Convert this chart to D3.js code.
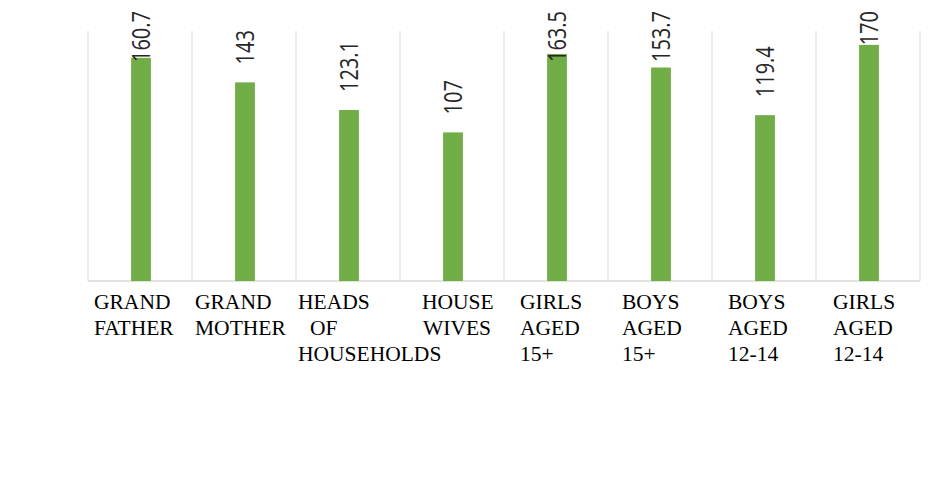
<!DOCTYPE html>
<html lang="en">
<head>
    <meta charset="UTF-8">
    <title>Bar chart</title>
    <script src="https://d3js.org/d3.v7.min.js"></script>
    <style>
        body { margin: 0; background: #fff; }
    </style>
</head>
<body>
    <svg></svg>
    <script>
        // chart data
        const categories = ["GRAND FATHER", "GRAND MOTHER", "HEADS OF HOUSEHOLDS", "HOUSE WIVES",
            "GIRLS AGED 15+", "BOYS AGED 15+", "BOYS AGED 12-14", "GIRLS AGED 12-14"];
        const labelLines = [["GRAND", "FATHER"], ["GRAND", "MOTHER"], ["HEADS", "OF", "HOUSEHOLDS"],
            ["HOUSE", "WIVES"], ["GIRLS", "AGED", "15+"], ["BOYS", "AGED", "15+"],
            ["BOYS", "AGED", "12-14"], ["GIRLS", "AGED", "12-14"]];
        const values = [160.7, 143, 123.1, 107, 163.5, 153.7, 119.4, 170];
        const yDomain = [0, 180];

        // layout
        const width = 933, height = 494;
        const plotLeft = 88, plotRight = 920, plotTop = 31, plotBottom = 281;
        const lineIndent = [[6, 6], [3, 3], [2, 14, 2], [22, 23], [16, 16, 16], [14, 14, 14], [16, 16, 16], [17, 17, 17]];
        const labelScale = 0.8;

        const svg = d3.select("svg")
            .attr("width", width)
            .attr("height", height);

        const x = d3.scaleBand()
            .domain(categories)
            .range([plotLeft, plotRight])
            .padding(0);

        const y = d3.scaleLinear()
            .domain(yDomain)
            .range([plotBottom, plotTop]);

        const barW = x.bandwidth() * 0.19;

        // vertical separators between categories
        const edges = categories.map(c => x(c)).concat([plotRight]);
        svg.append("g")
            .selectAll("line")
            .data(edges)
            .enter()
            .append("line")
            .attr("x1", d => d).attr("x2", d => d)
            .attr("y1", y(yDomain[1])).attr("y2", y(0))
            .attr("stroke", "#d9d9d9")
            .attr("stroke-width", 1);

        // baseline
        svg.append("line")
            .attr("x1", plotLeft).attr("x2", plotRight)
            .attr("y1", y(0)).attr("y2", y(0))
            .attr("stroke", "#d9d9d9")
            .attr("stroke-width", 1.5);

        // bars
        svg.append("g")
            .selectAll("rect")
            .data(values)
            .enter()
            .append("rect")
            .attr("x", (d, i) => x(categories[i]) + x.bandwidth() / 2 - barW / 2 + 1)
            .attr("width", barW)
            .attr("y", d => y(d))
            .attr("height", d => y(0) - y(d))
            .attr("fill", "#70ad47");

        // value labels, rotated
        const vl = svg.append("g")
            .selectAll("text")
            .data(values)
            .enter()
            .append("text")
            .attr("font-family", "'Open Sans', sans-serif")
            .attr("font-size", 25)
            .attr("fill", "#262626")
            .attr("dy", "0.36em")
            .text(d => d);

        vl.each(function (d, i) {
            const len = this.getComputedTextLength() * labelScale;
            const cx = x(categories[i]) + x.bandwidth() / 2 + 1;
            const start = Math.max(y(d) - 18, 11 + len);
            d3.select(this).attr("transform",
                `translate(${cx}, ${start}) rotate(-90) scale(${labelScale}, 1)`);
        });

        // category labels
        const cl = svg.append("g")
            .selectAll("text")
            .data(labelLines)
            .enter()
            .append("text")
            .attr("font-family", "'Liberation Serif', 'Times New Roman', serif")
            .attr("font-size", 21.5)
            .attr("fill", "#000");

        cl.selectAll("tspan")
            .data((d, i) => d.map((t, j) => ({ t, j, i })))
            .enter()
            .append("tspan")
            .attr("x", d => x(categories[d.i]) + lineIndent[d.i][d.j])
            .attr("y", d => 309 + d.j * 26)
            .text(d => d.t);
    </script>
</body>
</html>
